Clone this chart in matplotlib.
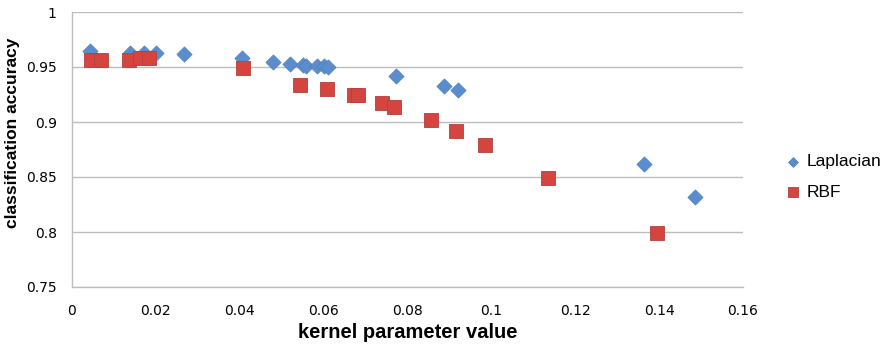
import matplotlib.pyplot as plt

# values
lap_x = [0.0043, 0.0138, 0.0172, 0.0200, 0.0267, 0.0405, 0.0479, 0.0520, 0.0551,
         0.0558, 0.0584, 0.0601, 0.0610, 0.0773, 0.0887, 0.0920, 0.1364, 0.1485]
lap_y = [0.965, 0.963, 0.963, 0.963, 0.962, 0.958, 0.955, 0.953, 0.952,
         0.951, 0.951, 0.951, 0.950, 0.942, 0.933, 0.929, 0.862, 0.832]

rbf_x = [0.0045, 0.0069, 0.0136, 0.0162, 0.0184, 0.0408, 0.0544, 0.0608, 0.0672,
         0.0682, 0.0739, 0.0768, 0.0856, 0.0916, 0.0985, 0.1135, 0.1395]
rbf_y = [0.956, 0.956, 0.956, 0.958, 0.958, 0.949, 0.934, 0.930, 0.925,
         0.925, 0.917, 0.914, 0.902, 0.892, 0.879, 0.849, 0.799]

x_ticks = [0, 0.02, 0.04, 0.06, 0.08, 0.1, 0.12, 0.14, 0.16]
y_ticks = [0.75, 0.8, 0.85, 0.9, 0.95, 1]

fig = plt.figure(figsize=(8.86, 3.45), dpi=100)
ax = fig.add_axes([72 / 886, 58 / 345, 671 / 886, 275 / 345])

ax.scatter(lap_x, lap_y, marker='D', s=60, color='#5B8CCB', edgecolors='#4F81BD',
           linewidths=0.5, label='Laplacian', zorder=3)
ax.scatter(rbf_x, rbf_y, marker='s', s=110, color='#D4453F', edgecolors='#B5403B',
           linewidths=0.6, label='RBF', zorder=3)

ax.set_xlim(0, 0.16)
ax.set_ylim(0.75, 1)
ax.set_xticks(x_ticks)
ax.set_xticklabels(['0', '0.02', '0.04', '0.06', '0.08', '0.1', '0.12', '0.14', '0.16'])
ax.set_yticks(y_ticks)
ax.set_yticklabels(['0.75', '0.8', '0.85', '0.9', '0.95', '1'])
ax.tick_params(axis='x', length=0, labelsize=10, pad=12)
ax.tick_params(axis='y', length=0, labelsize=10, pad=11)

ax.grid(axis='y', color='#BDBDBD', linewidth=1)
ax.set_axisbelow(True)
for side in ['top', 'right']:
    ax.spines[side].set_visible(False)
for side in ['left', 'bottom']:
    ax.spines[side].set_color('#BDBDBD')
    ax.spines[side].set_linewidth(1)

ax.set_xlabel('kernel parameter value', fontsize=14.5, fontweight='bold',
              family='Liberation Sans', labelpad=4)
ax.set_ylabel('classification accuracy', fontsize=12.5, fontweight='bold',
              family='Liberation Sans', labelpad=6)
ax.yaxis.set_label_coords(-0.078, 0.56)

leg = ax.legend(loc='center left', bbox_to_anchor=(1.061, 0.40), frameon=False,
                prop={'family': 'Liberation Sans', 'size': 12.5},
                borderpad=0, borderaxespad=0, handlelength=1.0,
                handletextpad=0.3, labelspacing=0.9, markerscale=0.65)

fig.savefig('out.png', dpi=100)
